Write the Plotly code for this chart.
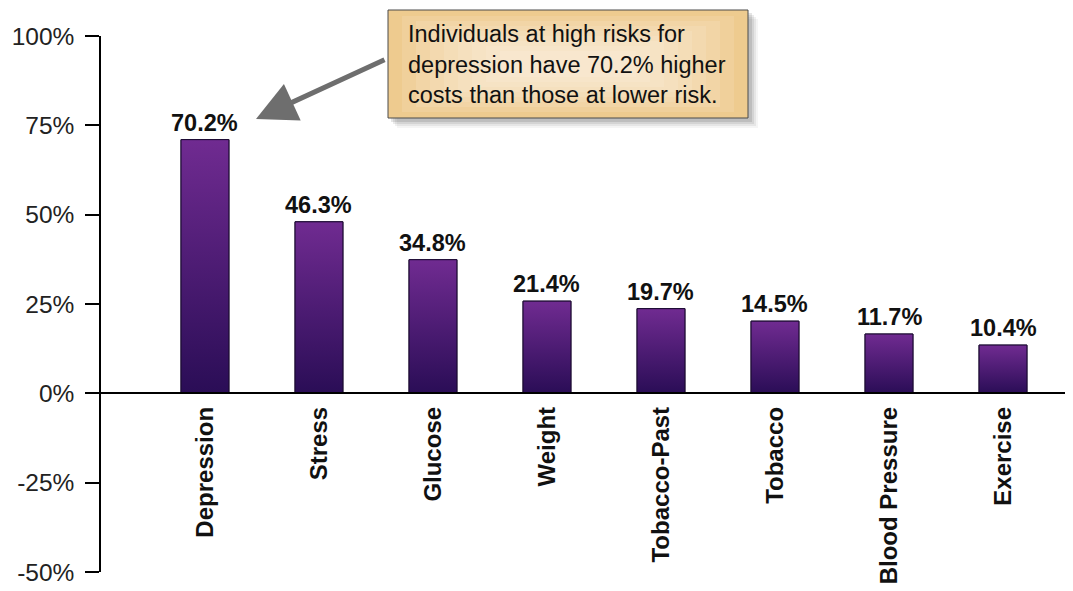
import plotly.graph_objects as go

categories = ["Depression", "Stress", "Glucose", "Weight", "Tobacco-Past",
              "Tobacco", "Blood Pressure", "Exercise"]
bar_heights = [71.0, 48.0, 37.4, 25.8, 23.7, 20.2, 16.6, 13.5]
value_labels = ["70.2%", "46.3%", "34.8%", "21.4%", "19.7%", "14.5%", "11.7%", "10.4%"]
y_ticks = [-50, -25, 0, 25, 50, 75, 100]
y_tick_text = ["-50%", "-25%", "0%", "25%", "50%", "75%", "100%"]
callout_text = ("Individuals at high risks for<br>depression have 70.2% higher<br>"
                "costs than those at lower risk.")

OFF = 8                     # page body margin
PAGE_W, PAGE_H = 1073, 591
W, H = PAGE_W - OFF, PAGE_H - OFF
ML, MR, MT, MB = 101 - OFF, 0, 36 - OFF, PAGE_H - 572
pw, ph = W - ML - MR, H - MT - MB
y_min, y_max = -50, 100
BAR_W = 0.42
DARK, LIGHT, EDGE = "#2a0d56", "#702b91", "#1a0a30"


def px_x(X):
    return (X - OFF - ML) / pw


def px_y(Y):
    return (PAGE_H - MB - Y) / ph


idx = list(range(len(categories)))

fig = go.Figure()
fig.add_trace(go.Bar(
    x=idx, y=bar_heights, width=BAR_W,
    marker=dict(color="#4a1e78", line=dict(color=EDGE, width=1)),
    hoverinfo="skip",
))
# vertical gradient fill over each bar, from the same data
for i, v in zip(idx, bar_heights):
    x0, x1 = i - BAR_W / 2, i + BAR_W / 2
    fig.add_trace(go.Scatter(
        x=[x0, x1, x1, x0, x0], y=[0, 0, v, v, 0], mode="lines",
        fill="toself", line=dict(color=EDGE, width=1),
        fillgradient=dict(type="vertical",
                          colorscale=[[0, DARK], [1, LIGHT]]),
        hoverinfo="skip",
    ))

for i, v, t in zip(idx, bar_heights, value_labels):
    fig.add_annotation(x=i, y=v, text=t, showarrow=False, yanchor="bottom",
                       yshift=2, font=dict(family="Liberation Sans", size=23.5,
                                           color="#111", weight="bold"))

# callout shadow + box (soft light centre built from nested translucent rects)
for k, a in enumerate([0.10, 0.08, 0.06, 0.04]):
    d = 2 * k
    fig.add_shape(type="rect", xref="paper", yref="paper",
                  x0=px_x(391 + d), x1=px_x(752 + d), y0=px_y(122 + d), y1=px_y(13 + d),
                  fillcolor=f"rgba(0,0,0,{a})", line=dict(width=0), layer="above")
fig.add_shape(type="rect", xref="paper", yref="paper",
              x0=px_x(388), x1=px_x(748), y0=px_y(118), y1=px_y(10),
              fillcolor="#eecb8f", line=dict(color="#4a4a4a", width=1), layer="above")
for k in range(8):
    dx, dy = 14 + 14 * k, 6 + 5 * k
    fig.add_shape(type="rect", xref="paper", yref="paper",
                  x0=px_x(388 + dx), x1=px_x(748 - dx),
                  y0=px_y(118 - dy), y1=px_y(10 + dy),
                  fillcolor="rgba(255,250,240,0.13)", line=dict(width=0),
                  layer="above")
fig.add_annotation(xref="paper", yref="paper", x=px_x(406), y=px_y(64),
                   xanchor="left", yanchor="middle", align="left", showarrow=False,
                   text=callout_text,
                   font=dict(family="Liberation Sans", size=23.5, color="#111"))
# arrow
fig.add_annotation(xref="paper", yref="paper", x=px_x(256), y=px_y(119), text="",
                   showarrow=True, arrowhead=2, arrowsize=1.6, arrowwidth=5,
                   arrowcolor="#6e6e6e", ax=130, ay=-60)

fig.update_layout(
    width=W, height=H, margin=dict(l=ML, r=MR, t=MT, b=MB, autoexpand=False),
    plot_bgcolor="white", paper_bgcolor="white", showlegend=False,
    xaxis=dict(range=[-0.912, 7.614], anchor="free", automargin=False,
               position=(0 - y_min) / (y_max - y_min),
               tickvals=idx, ticktext=categories,
               showline=True, linecolor="#000", linewidth=2, ticks="",
               showgrid=False, zeroline=False, tickangle=-90,
               ticklabelstandoff=3,
               tickfont=dict(family="Liberation Sans", size=24, color="#111",
                             weight="bold")),
    yaxis=dict(range=[y_min, y_max], tickvals=y_ticks, ticktext=y_tick_text,
               automargin=False, ticklabelstandoff=6,
               showline=True, linecolor="#000", linewidth=1.5, ticks="outside",
               ticklen=14, tickwidth=1.5, tickcolor="#000", showgrid=False,
               zeroline=False,
               tickfont=dict(family="Liberation Sans", size=24.5, color="#222")),
)

fig.write_html("out.html")
